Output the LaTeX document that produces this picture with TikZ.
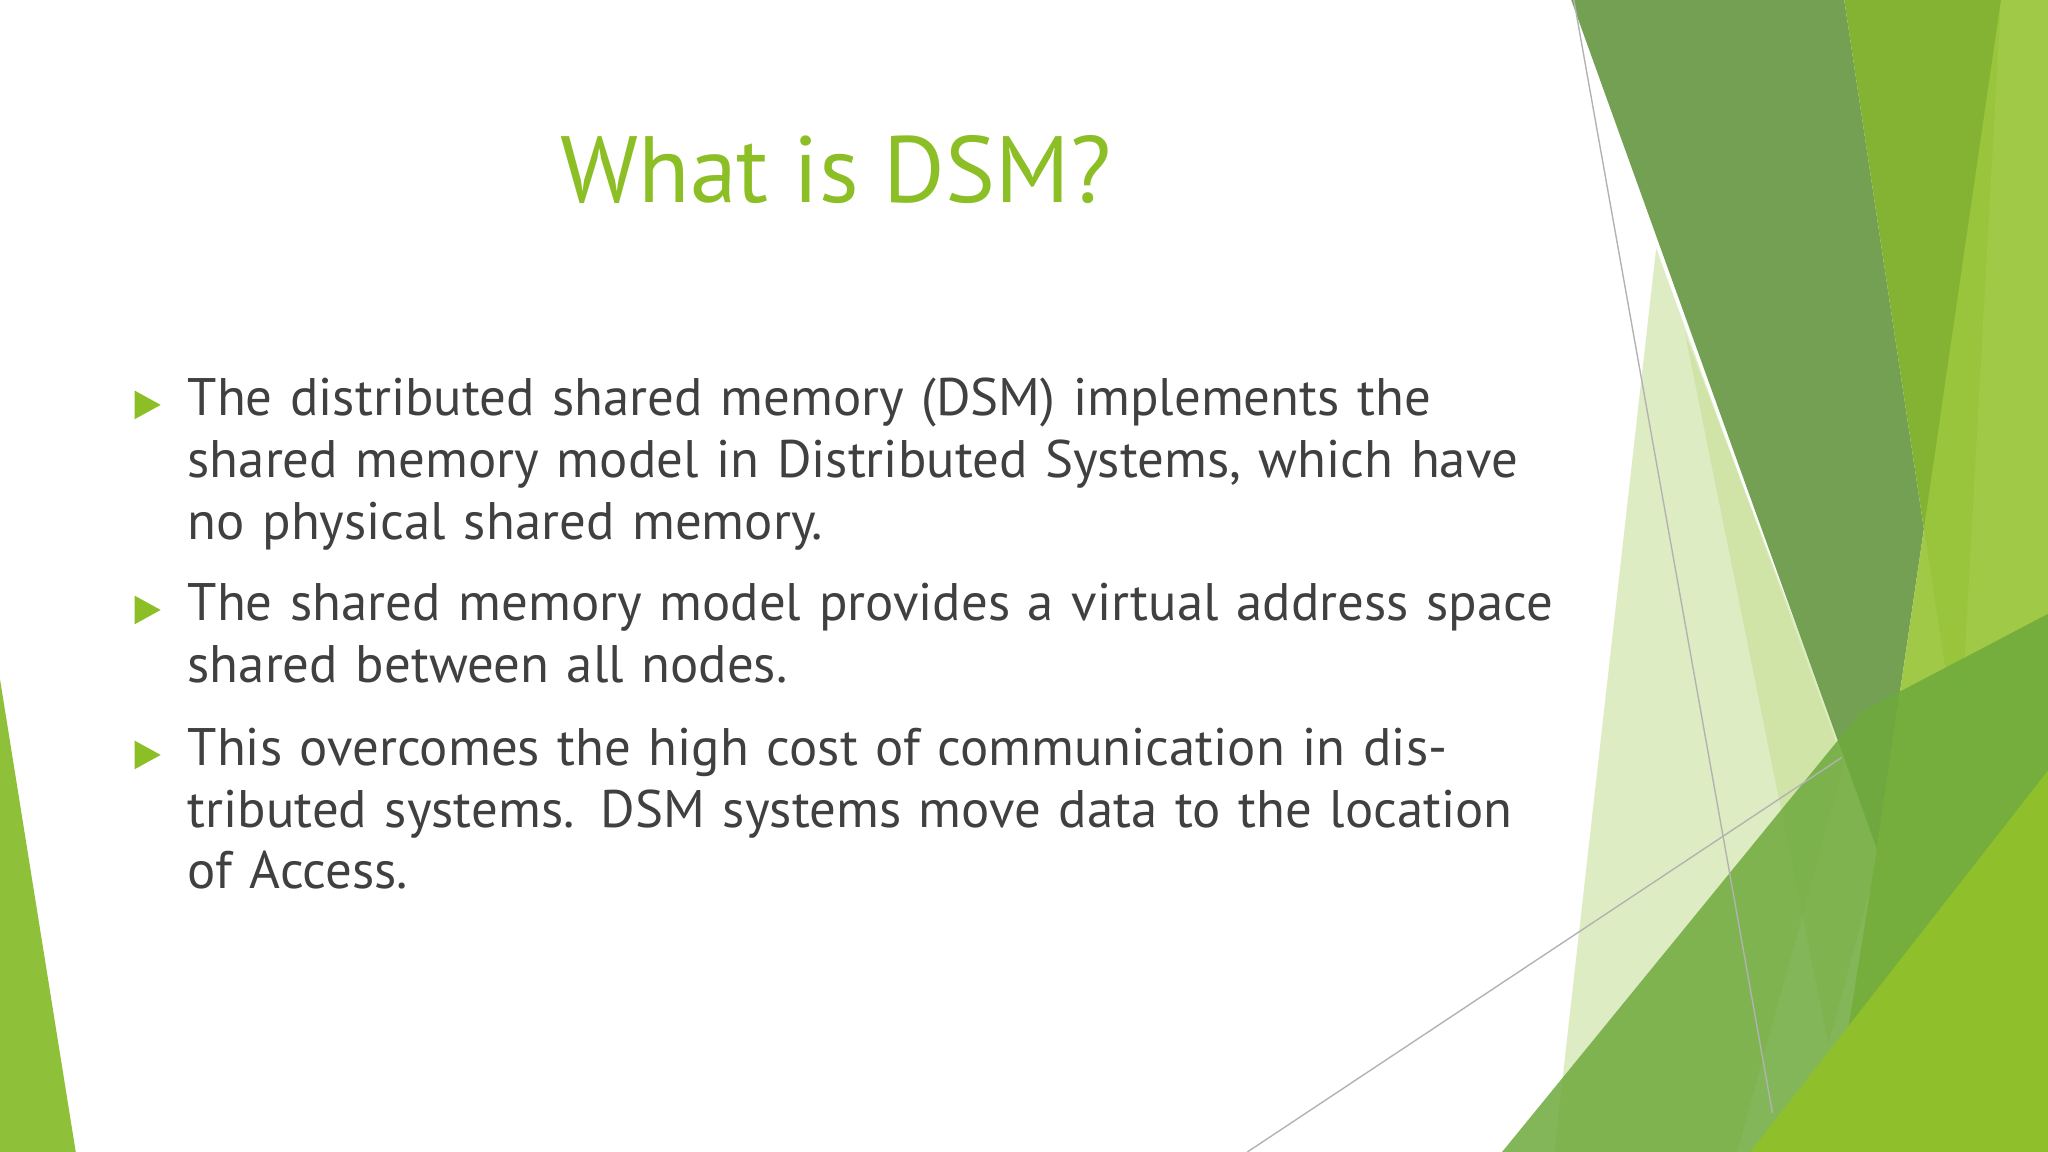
\documentclass[tikz,border=0pt]{standalone}
\usepackage{fontspec}
\setmainfont{PT Sans}
\definecolor{gtitle}{HTML}{8CBF26}
\definecolor{gtext}{HTML}{404040}
\newcommand\nohyph{\hyphenpenalty=10000\relax\exhyphenpenalty=10000\relax}
\tikzset{
  bodytext/.style={anchor=north west, text width=10.6cm, align=left, inner sep=0pt, text=gtext,
    font=\fontsize{11.5}{13.4}\selectfont},
  bullet/.style={fill=gtitle},
  thinline/.style={draw=gray!60, line width=0.3pt}
}
\begin{document}
\begin{tikzpicture}[x=0.01cm,y=-0.01cm]
\useasboundingbox (0,0) rectangle (1568,882);
\fill[white] (0,0) rectangle (1568,882);
% left green
\fill[color={rgb,255:red,143;green,192;blue,58}] (0,520) -- (0,882) -- (58,882) -- cycle;
% pale wedge
\fill[color={rgb,255:red,212;green,230;blue,176}, opacity=0.75] (1268,190) -- (1412,585) -- (1330,882) -- (1190,882) -- cycle;
\fill[color={rgb,255:red,200;green,224;blue,150}, opacity=0.6] (1290,255) -- (1440,650) -- (1400,800) -- cycle;
% dark olive
\fill[color={rgb,255:red,100;green,150;blue,65}, opacity=0.9] (1203,0) -- (1412,0) -- (1473,405) -- (1437,650) -- cycle;
% medium olive
\fill[color={rgb,255:red,132;green,178;blue,50}] (1412,0) -- (1532,0) -- (1500,580) -- (1473,405) -- cycle;
% right light
\fill[color={rgb,255:red,155;green,199;blue,62}, opacity=0.95] (1532,0) -- (1568,0) -- (1568,882) -- (1400,882) -- (1437,650) -- (1473,405) -- cycle;
% bottom band
\fill[color={rgb,255:red,110;green,170;blue,60}, opacity=0.85] (1150,882) -- (1425,545) -- (1568,470) -- (1568,882) -- cycle;
% bright bottom right
\fill[color={rgb,255:red,143;green,192;blue,43}] (1340,882) -- (1568,590) -- (1568,882) -- cycle;
% thin lines
\coordinate (la) at (1205,0); \coordinate (lb) at (1357,852);
\coordinate (lc) at (955,882); \coordinate (ld) at (1410,580);
\draw[thinline] (la) -- (lb);
\draw[thinline] (lc) -- (ld);
% title
\node[text=gtitle, font=\fontsize{20.5}{24}\selectfont] (title) at (640,130) {What is DSM?};
% bullets
\foreach \n/\y in {b1/310,b2/467,b3/578}
  \fill[bullet] (103,\y-11) -- (123,\y) -- (103,\y+11) -- cycle;
\node[bodytext] (t1) at (143,289) {\nohyph The distributed shared memory (DSM) implements the shared memory model in Distributed Systems, which have no physical shared memory.};
\node[bodytext] (t2) at (143,446) {\nohyph The shared memory model provides a virtual address space shared between all nodes.};
\node[bodytext] (t3) at (143,557) {\nohyph This overcomes the high cost of communication in distributed systems. DSM systems move data to the location of Access.};
\end{tikzpicture}
\end{document}
